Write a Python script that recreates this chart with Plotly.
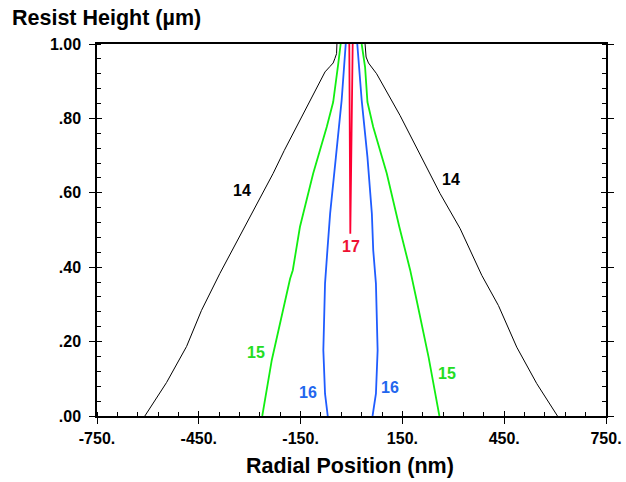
import plotly.graph_objects as go

# ---- data (x in nm, y in um) ----
c14_left_x = [-609, -545, -486, -442, -388, -314, -231, -198, -147, -78, -63, -54, -49, -44, -43]
c14_left_y = [0.0, 0.090, 0.187, 0.284, 0.383, 0.508, 0.652, 0.714, 0.804, 0.925, 0.940, 0.949, 0.961, 0.974, 1.0]
c14_right_x = [607, 546, 487, 433, 384, 320, 261, 197, 143, 74, 62, 50, 43, 40]
c14_right_y = [0.0, 0.087, 0.185, 0.297, 0.378, 0.504, 0.598, 0.714, 0.808, 0.920, 0.934, 0.949, 0.965, 1.0]

c15_left_x = [-263, -235, -181, -173, -152, -113, -73, -54, -39, -36, -32]
c15_left_y = [0.0, 0.150, 0.369, 0.392, 0.508, 0.652, 0.777, 0.844, 0.947, 0.974, 1.0]
c15_right_x = [259, 227, 192, 173, 141, 104, 64, 47, 40, 33, 30]
c15_right_y = [0.0, 0.159, 0.311, 0.392, 0.508, 0.652, 0.777, 0.844, 0.938, 0.974, 1.0]

c16_left_x = [-70, -78, -83, -78, -71, -63, -46, -29, -17]
c16_left_y = [0.0, 0.060, 0.177, 0.356, 0.446, 0.544, 0.696, 0.849, 1.0]
c16_right_x = [62, 72, 77, 72, 64, 60, 47, 30, 17]
c16_right_y = [0.0, 0.060, 0.177, 0.356, 0.446, 0.544, 0.696, 0.849, 1.0]

c17_x = [-6.5, -3.5, 3.5]
c17_y = [1.0, 0.49, 1.0]

label_text = ["14", "14", "15", "15", "16", "16", "17"]
label_x = [-323, 292, -280, 281, -128, 114, -2]
label_y = [0.605, 0.637, 0.171, 0.113, 0.063, 0.077, 0.455]

x_tickvals = [-750, -450, -150, 150, 450, 750]
x_ticktext = ["-750.", "-450.", "-150.", "150.", "450.", "750."]
y_tickvals = [0.0, 0.2, 0.4, 0.6, 0.8, 1.0]
y_ticktext = [".00", ".20", ".40", ".60", ".80", "1.00"]

BLACK = "#000000"
GREEN = "#11ee11"
BLUE = "#1f5cff"
RED = "#ff0033"
LBL_GREEN = "#22dd22"
LBL_BLUE = "#2266ee"
LBL_RED = "#ee1133"
label_colors = [BLACK, BLACK, LBL_GREEN, LBL_GREEN, LBL_BLUE, LBL_BLUE, LBL_RED]

FONT = "Liberation Sans, Arial, sans-serif"

fig = go.Figure()

def add_contour(lx, ly, rx, ry, color, width):
    fig.add_trace(go.Scatter(x=lx + [None] + rx, y=ly + [None] + ry, mode="lines",
                             line=dict(color=color, width=width), connectgaps=False,
                             showlegend=False, hoverinfo="skip"))

add_contour(c14_left_x, c14_left_y, c14_right_x, c14_right_y, BLACK, 1)
add_contour(c15_left_x, c15_left_y, c15_right_x, c15_right_y, GREEN, 1.8)
add_contour(c16_left_x, c16_left_y, c16_right_x, c16_right_y, BLUE, 1.8)
fig.add_trace(go.Scatter(x=c17_x, y=c17_y, mode="lines", line=dict(color=RED, width=1.8),
                         showlegend=False, hoverinfo="skip"))
# dummy trace for overlay axes (inside major ticks)
fig.add_trace(go.Scatter(x=[None], y=[None], xaxis="x2", yaxis="y2", showlegend=False))

for t, x, y, c in zip(label_text, label_x, label_y, label_colors):
    fig.add_annotation(x=x, y=y, text="<b>%s</b>" % t, showarrow=False,
                       font=dict(family=FONT, size=16, color=c), xanchor="center", yanchor="middle")

fig.add_annotation(xref="paper", yref="paper", x=-0.171, y=1.07, xanchor="left", yanchor="middle",
                   text="<b>Resist Height (µm)</b>", showarrow=False,
                   font=dict(family=FONT, size=21.5, color=BLACK))
fig.add_annotation(xref="paper", yref="paper", x=0.498, y=-0.134, xanchor="center", yanchor="middle",
                   text="<b>Radial Position (nm)</b>", showarrow=False,
                   font=dict(family=FONT, size=21.5, color=BLACK))

tickfont = dict(family=FONT, size=16, color=BLACK)
fig.update_layout(
    width=626, height=482,
    margin=dict(l=97, r=20, t=44, b=66, autoexpand=False),
    paper_bgcolor="white", plot_bgcolor="white",
    xaxis=dict(range=[-750, 750], tickmode="array", tickvals=x_tickvals, automargin=False,
               ticktext=["<b>%s</b>" % t for t in x_ticktext],
               ticks="outside", ticklen=6, tickwidth=1, tickcolor=BLACK,
               showline=True, linecolor=BLACK, linewidth=1.5, mirror=True,
               showgrid=False, zeroline=False, tickfont=tickfont, ticklabelstandoff=1,
               minor=dict(tick0=-750, dtick=60, ticks="inside", ticklen=4, tickcolor=BLACK, tickwidth=1,
                          showgrid=False)),
    yaxis=dict(range=[0, 1], tickmode="array", tickvals=y_tickvals, automargin=False,
               ticktext=["<b>%s</b>" % t for t in y_ticktext],
               ticks="outside", ticklen=6, tickwidth=1, tickcolor=BLACK,
               showline=True, linecolor=BLACK, linewidth=1.5, mirror="ticks",
               showgrid=False, zeroline=False, tickfont=tickfont, ticklabelstandoff=5,
               minor=dict(tick0=0, dtick=0.04, ticks="inside", ticklen=4, tickcolor=BLACK, tickwidth=1,
                          showgrid=False)),
    xaxis2=dict(range=[-750, 750], overlaying="x", anchor="y", tickmode="array", tickvals=x_tickvals,
                automargin=False,
                ticks="inside", ticklen=5, tickwidth=1, tickcolor=BLACK, showticklabels=False,
                showline=False, showgrid=False, zeroline=False, mirror=False),
    yaxis2=dict(range=[0, 1], overlaying="y", anchor="x", tickmode="array", tickvals=y_tickvals,
                automargin=False,
                ticks="inside", ticklen=5, tickwidth=1, tickcolor=BLACK, showticklabels=False,
                showline=False, showgrid=False, zeroline=False, mirror="ticks"),
)

fig.write_html("out.html")
